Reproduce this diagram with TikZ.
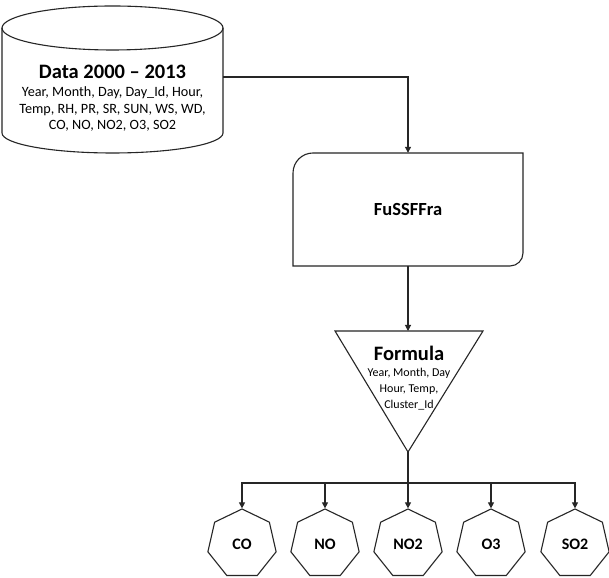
\documentclass[tikz,border=0pt]{standalone}
\usepackage{fontspec}
\setmainfont{Carlito}
\usetikzlibrary{arrows.meta,shapes.geometric}
\begin{document}
\begin{tikzpicture}[x=1pt,y=1pt,
  line/.style={line width=1.1pt, draw=black!85},
  arr/.style={line, -{Triangle[length=6pt,width=6pt]}},
  title/.style={font=\fontsize{20.5}{24}\selectfont\bfseries, inner sep=0pt},
  body/.style={font=\fontsize{14.2}{16.5}\selectfont, align=center, inner sep=0pt},
  hept/.style={line, regular polygon, regular polygon sides=7, minimum size=70pt, inner sep=0pt, font=\fontsize{16}{18}\selectfont\bfseries}]
\useasboundingbox[fill=white] (0,0) rectangle (609,577);
% cylinder
\draw[line, fill=white] (2,549) -- (2,444) arc[start angle=180,end angle=360,x radius=110.5,y radius=20] -- (223,549);
\draw[line] (112.5,549) ellipse[x radius=110.5, y radius=22];
\coordinate (dbr) at (223,500);
\node[title] (dbtitle) at (112.5,505) {Data 2000 – 2013};
\node[body] (dbbody) at (112.5,468) {Year, Month, Day, Day\_Id, Hour,\\Temp, RH, PR, SR, SUN, WS, WD,\\CO, NO, NO2, O3, SO2};
% FuSSFFra
\draw[line] (293,311) -- (293,404) arc[start angle=180,end angle=90,radius=20] -- (523,424) -- (523,324) arc[start angle=0,end angle=-90,radius=13] -- cycle;
\node[title, font=\fontsize{18.5}{22}\selectfont\bfseries, minimum width=230pt, minimum height=113pt] (fus) at (408,367.5) {FuSSFFra};
% triangle
\coordinate (tritop) at (408,246);
\coordinate (tribot) at (408,125);
\draw[line] (335,246) -- (483,246) -- (tribot) -- cycle;
\node[title] (formtitle) at (409,224) {Formula};
\node[body, font=\fontsize{12}{16}\selectfont] (formbody) at (409,188) {Year, Month, Day\\Hour, Temp,\\Cluster\_Id};
% heptagons
\node[hept] (co) at (242,33) {CO};
\node[hept] (no) at (325,33) {NO};
\node[hept] (notwo) at (408,33) {NO2};
\node[hept] (othree) at (491,33) {O3};
\node[hept] (sotwo) at (575,33) {SO2};
% connectors
\draw[arr] (dbr) -| (fus.north);
\draw[arr] (fus.south) -- (tritop);
\coordinate (split) at (408,94);
\draw[line] (tribot) -- (split);
\foreach \h in {co,no,notwo,othree,sotwo}{
  \draw[arr] (split) -| (\h.corner 1);
}
\end{tikzpicture}
\end{document}
